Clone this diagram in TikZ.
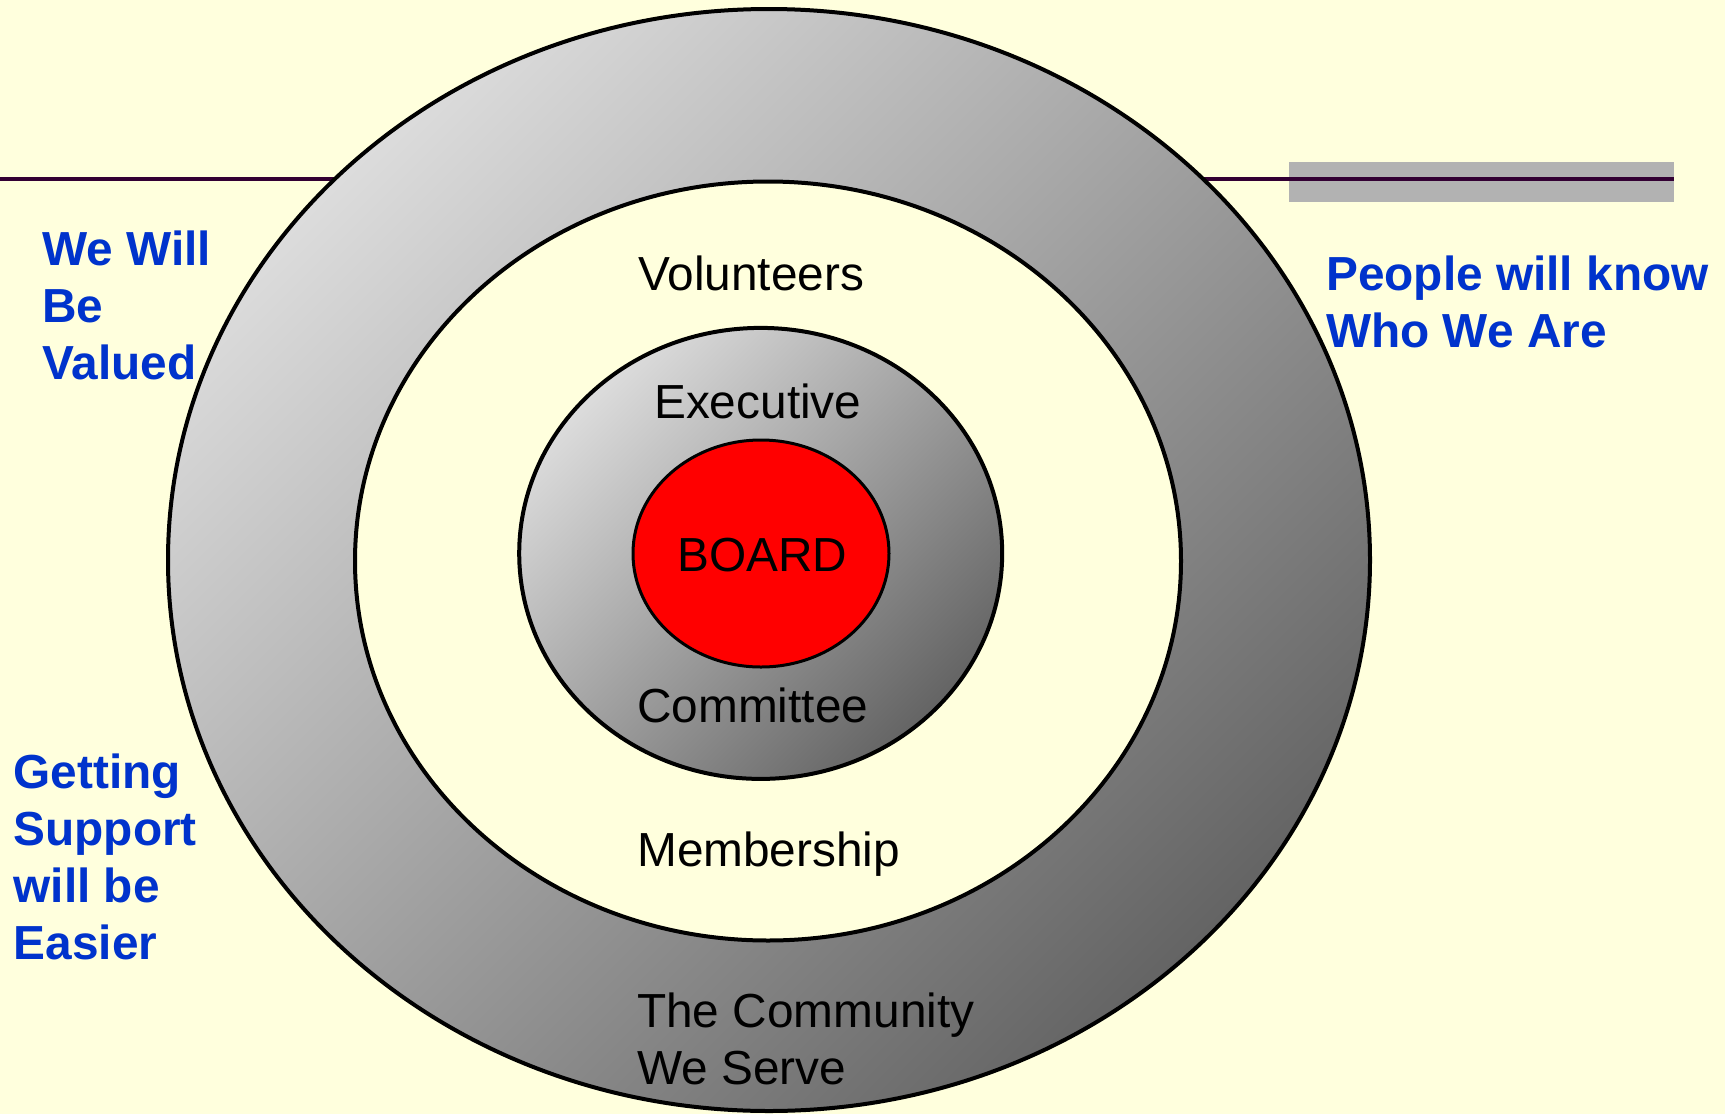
\documentclass[tikz,border=0pt]{standalone}
\usepackage{fontspec}
\setmainfont{Liberation Sans}
\definecolor{bg}{HTML}{FFFFDD}
\definecolor{bluetext}{HTML}{0033CC}
\definecolor{linecol}{HTML}{330033}
\definecolor{barcol}{HTML}{B2B2B2}
\definecolor{lightgr}{HTML}{DCDCDC}
\definecolor{darkgr}{HTML}{646464}
\definecolor{boardred}{HTML}{FF0000}
\begin{document}
\begin{tikzpicture}[x=1pt,y=-1pt,
  lab/.style={anchor=base west, inner sep=0pt, font=\fontsize{47.8}{57}\selectfont, text=black},
  bluelab/.style={anchor=base west, inner sep=0pt, font=\fontsize{47.8}{57}\selectfont\bfseries, text=bluetext},
  ring/.style={draw=black, line width=4pt, top color=lightgr, bottom color=darkgr, shading angle=45}]
\fill[bg] (0,0) rectangle (1725,1114);
\useasboundingbox (0,0) rectangle (1725,1114);
% bar and rule
\fill[barcol] (1289,162) rectangle (1674,202);
\draw[linecol, line width=4pt] (0,179) -- (1674,179);
% outer ring
\shadedraw[ring] (769,560) ellipse [x radius=601, y radius=551];
% inner pale ellipse
\filldraw[fill=bg, draw=black, line width=4pt] (768,561) ellipse [x radius=413, y radius=379.5];
% executive committee
\shadedraw[ring] (760.7,553.4) ellipse [x radius=241.5, y radius=225.5];
% board
\filldraw[fill=boardred, draw=black, line width=3pt] (761,553.5) ellipse [x radius=128, y radius=113.5];
% labels
\node[lab] (vol) at (638,290) {Volunteers};
\node[lab] (exe) at (654,418) {Executive};
\node[lab] (board) at (677,571) {BOARD};
\node[lab] (com) at (637,722) {Committee};
\node[lab] (mem) at (637,866) {Membership};
\node[lab] (comm1) at (637,1027) {The Community};
\node[lab] (comm2) at (637,1084) {We Serve};
% blue side texts
\node[bluelab] (val1) at (42,265) {We Will};
\node[bluelab] (val2) at (42,322) {Be};
\node[bluelab] (val3) at (42,379) {Valued};
\node[bluelab] (sup1) at (13.5,788) {Getting};
\node[bluelab] (sup2) at (13.5,845) {Support};
\node[bluelab] (sup3) at (13.5,902) {will be};
\node[bluelab] (sup4) at (13.5,959) {Easier};
\node[bluelab] (know1) at (1326,290) {People will know};
\node[bluelab] (know2) at (1326,347) {Who We Are};
\end{tikzpicture}
\end{document}
